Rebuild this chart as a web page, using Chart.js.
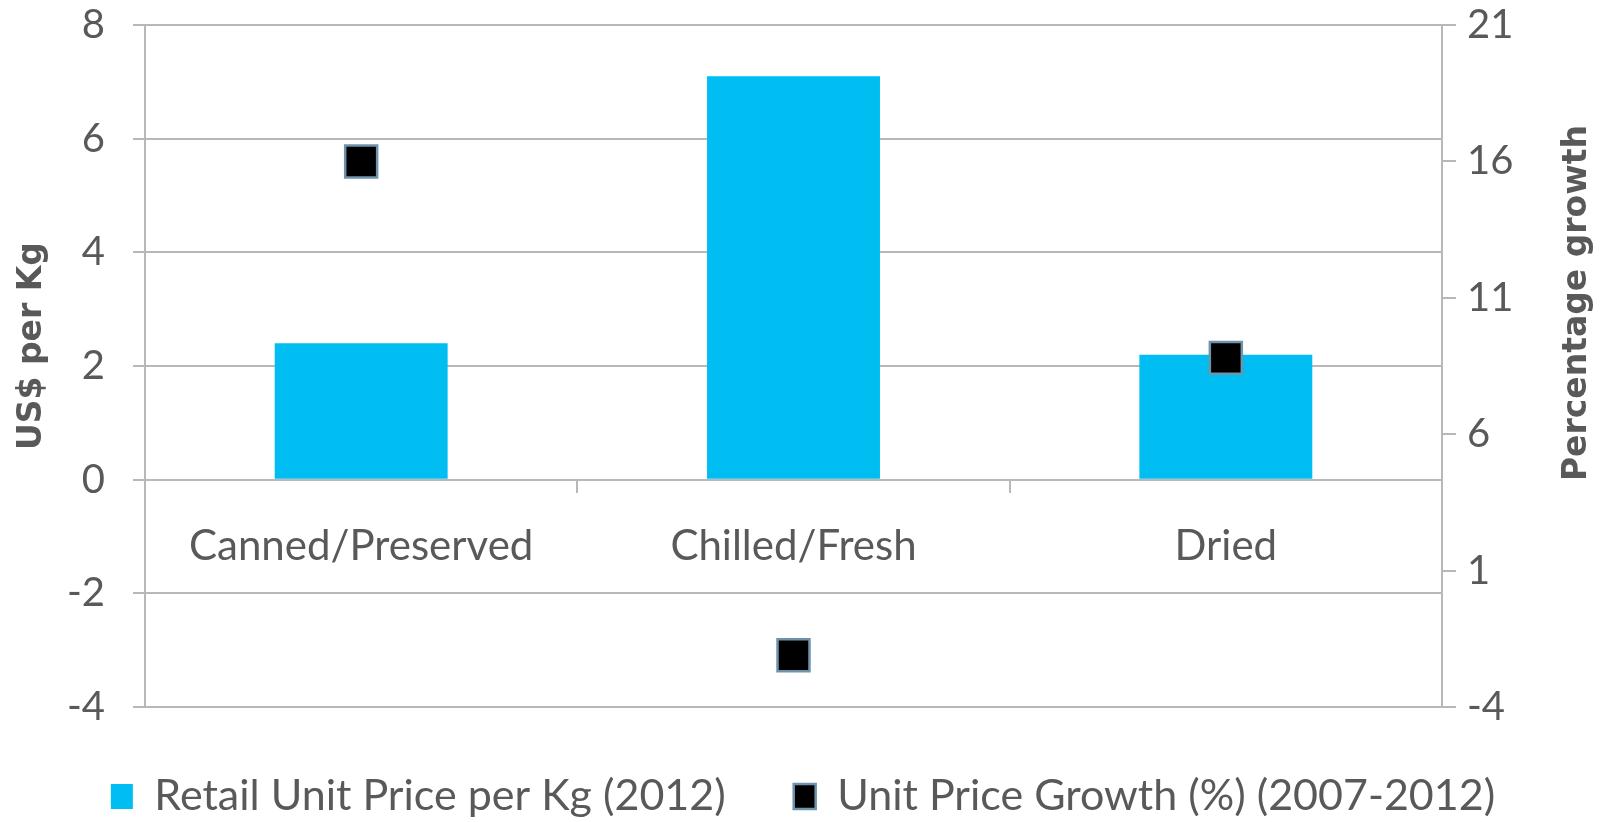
<!DOCTYPE html>
<html>
<head>
<meta charset="utf-8">
<script src="https://cdn.jsdelivr.net/npm/chart.js@4/dist/chart.umd.min.js"></script>
<style>
    html, body { margin: 0; padding: 0; background: #ffffff; }
    #wrap { width: 1606px; height: 822px; }
</style>
</head>
<body>
<div id="wrap"><canvas id="priceChart" width="1606" height="822"></canvas></div>
<script>
const categories = ['Canned/Preserved', 'Chilled/Fresh', 'Dried'];
const unitPrice = [2.4, 7.1, 2.2];          // US$ per Kg, 2012
const priceGrowth = [16.0, -2.1, 8.8];      // % growth, 2007-2012

const priceTicks = { min: -4, max: 8, step: 2 };
const growthTicks = { min: -4, max: 21, step: 5 };

const textColor = '#595959';
const lineColor = '#b8b8b8';
const fontFamily = 'Lato, "Open Sans", sans-serif';

// keep the first/last tick labels from pushing the plot area inwards
function fixAxisWidth(width) {
    return scale => {
        scale.width = width;
        scale.paddingTop = 0;
        scale.paddingBottom = 0;
    };
}

// both axis titles read bottom-to-top, so draw them ourselves
const axisTitles = {
    id: 'axisTitles',
    afterDraw(chart, args, opts) {
        const { ctx, chartArea, scales } = chart;
        const midY = (chartArea.top + chartArea.bottom) / 2;
        ctx.save();
        ctx.fillStyle = textColor;
        ctx.font = 'bold 33px "DejaVu Sans", sans-serif';
        ctx.textAlign = 'center';
        ctx.textBaseline = 'middle';
        for (const t of opts.titles) {
            const s = scales[t.axis];
            const x = t.side === 'left' ? s.left + t.inset : s.right - t.inset;
            ctx.save();
            ctx.translate(x, midY + t.shift);
            ctx.rotate(-Math.PI / 2);
            ctx.fillText(t.text, 0, 0);
            ctx.restore();
        }
        ctx.restore();
    }
};

new Chart(document.getElementById('priceChart'), {
    type: 'bar',
    data: {
        labels: categories,
        datasets: [{
            type: 'line',
            label: 'Unit Price Growth (%) (2007-2012)',
            data: priceGrowth,
            yAxisID: 'y2',
            showLine: false,
            pointStyle: 'rect',
            pointRadius: 22.6,
            pointHoverRadius: 22.6,
            backgroundColor: '#000000',
            borderColor: '#6e93ab',
            borderWidth: 2.5,
            order: 0
        }, {
            label: 'Retail Unit Price per Kg (2012)',
            data: unitPrice,
            yAxisID: 'y',
            backgroundColor: '#00bdf2',
            borderWidth: 0,
            categoryPercentage: 1,
            barPercentage: 0.4,
            order: 1
        }]
    },
    options: {
        responsive: false,
        animation: false,
        layout: { padding: { top: 23, bottom: -6, left: 0, right: 0 } },
        plugins: {
            tooltip: { enabled: false },
            legend: {
                position: 'bottom',
                reverse: true,
                labels: {
                    color: textColor,
                    font: { family: fontFamily, size: 43 },
                    boxWidth: 22,
                    boxHeight: 25,
                    padding: 68
                }
            },
            axisTitles: {
                titles: [
                    { axis: 'y', side: 'left', text: 'US$ per Kg', inset: 32, shift: -20 },
                    { axis: 'y2', side: 'right', text: 'Percentage growth', inset: 29, shift: -63 }
                ]
            }
        },
        scales: {
            x: {
                position: { y: 0 },
                grid: { drawOnChartArea: false, drawTicks: true, tickLength: 12, color: lineColor, lineWidth: 2 },
                border: { display: true, color: lineColor, width: 2 },
                ticks: { color: textColor, font: { family: fontFamily, size: 42 }, padding: 30 },
                afterFit: scale => { scale.height = 0; }
            },
            y: {
                position: 'left',
                min: priceTicks.min,
                max: priceTicks.max,
                grid: { color: lineColor, lineWidth: 2, tickLength: 12 },
                border: { display: true, color: lineColor, width: 2 },
                ticks: { stepSize: priceTicks.step, color: textColor, font: { family: fontFamily, size: 40 }, padding: 28 },
                afterFit: fixAxisWidth(145)
            },
            y2: {
                position: 'right',
                min: growthTicks.min,
                max: growthTicks.max,
                grid: { drawOnChartArea: false, color: lineColor, lineWidth: 2, tickLength: 14 },
                border: { display: true, color: lineColor, width: 2 },
                ticks: { stepSize: growthTicks.step, color: textColor, font: { family: fontFamily, size: 40 }, padding: 11 },
                afterFit: fixAxisWidth(164)
            }
        }
    },
    plugins: [axisTitles]
});
</script>
</body>
</html>
